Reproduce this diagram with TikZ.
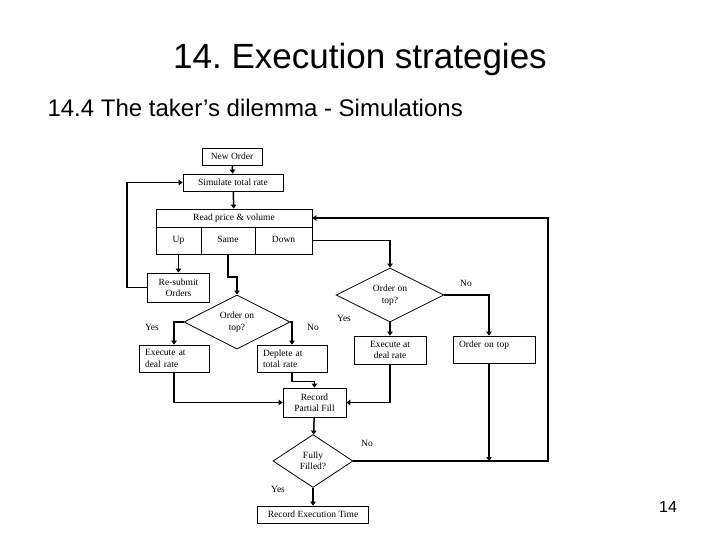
\documentclass[tikz,border=0pt]{standalone}
\usepackage{fontspec}
\setmainfont{Liberation Serif}
\newfontfamily\slidefont{Liberation Sans}
\usetikzlibrary{shapes.geometric,arrows.meta}
\frenchspacing

\tikzset{
  box/.style={draw,line width=0.8pt,inner sep=2pt,align=center,
    font=\fontsize{9.5}{11.5}\selectfont},
  cell/.style={box,minimum height=27pt,text height=7pt,text depth=2pt},
  leftbox/.style={box,align=left,inner xsep=6pt,text width=58pt,minimum height=27pt},
  decision/.style={draw,diamond,line width=0.8pt,inner sep=0pt,align=center,
    font=\fontsize{9.5}{11.5}\selectfont},
  conn/.style={line width=1.5pt,-{Triangle[length=4pt,width=5.5pt]}},
  lbl/.style={font=\fontsize{9.5}{11}\selectfont}
}

\begin{document}
\begin{tikzpicture}[x=1pt,y=-1pt]
  \useasboundingbox (0,0) rectangle (720,540);
  % slide titles
  \node[anchor=base,font=\slidefont\fontsize{35}{40}\selectfont] (title) at (360,69) {14. Execution strategies};
  \node[anchor=base west,font=\slidefont\fontsize{24}{28}\selectfont] (subtitle) at (44,117) {14.4 The taker’s dilemma - Simulations};
  \node[anchor=base,font=\slidefont\fontsize{16}{18}\selectfont] (pagenum) at (668,512) {14};

  % boxes
  \node[box,minimum width=60pt,minimum height=17pt] (neworder) at (232,156.5) {New Order};
  \node[box,minimum width=100pt,minimum height=17pt] (simulate) at (233,182.5) {Simulate total rate};
  \node[box,minimum width=156pt,minimum height=18pt] (readprice) at (234,218) {Read price \& volume};
  \node[cell,minimum width=45pt] (up) at (178.5,240.5) {Up};
  \node[cell,minimum width=54pt] (same) at (228,240.5) {Same};
  \node[cell,minimum width=57pt] (down) at (283.5,240.5) {Down};
  \node[box,minimum width=62pt,minimum height=29pt] (resubmit) at (178.5,287.5) {Re-submit\\Orders};

  \node[decision,minimum width=108pt,minimum height=42pt] (decA) at (390,295) {Order on\\top?};
  \node[decision,minimum width=106pt,minimum height=42pt] (decB) at (237,322) {Order on\\top?};

  \node[leftbox] (execL) at (174,358.5) {Execute at\\deal rate};
  \node[leftbox] (deplete) at (292,358.5) {Deplete at\\total rate};
  \node[box,minimum width=72pt,minimum height=28pt] (execR) at (390,350) {Execute at\\deal rate};
  \node[box,align=left,inner xsep=6pt,text width=70pt,text height=7pt,text depth=12pt,inner ysep=4pt] (ordertop) at (494,349.5) {Order on top};

  \node[box,minimum width=63pt,minimum height=29pt] (partial) at (314.5,402.5) {Record\\Partial Fill};
  \node[decision,minimum width=80pt,minimum height=53pt] (filled) at (313,461) {Fully\\Filled?};
  \node[box,minimum width=111pt,minimum height=17pt] (rectime) at (313,514.5) {Record Execution Time};

  % helper points
  \coordinate (loopc) at (548,461);
  \coordinate (otn) at ([xshift=-5pt]ordertop.north);
  \coordinate (ots) at ([xshift=-5pt]ordertop.south);

  % connectors
  \draw[conn] (neworder) -- (simulate);
  \draw[conn] (simulate) -- (readprice);
  \draw[conn] (up) -- (resubmit);
  \draw[conn] (resubmit.west) -- ++(-20,0) |- (simulate.west);
  \draw[conn] (same.south) -- ++(0,22.5) -| (decB.north);
  \draw[conn] (down.east) -| (decA.north);
  \draw[conn] (decB.west) -| (execL.north);
  \draw[conn] (decB.east) -| (deplete.north);
  \draw[conn] (decA.east) -| (otn);
  \draw[conn] (decA.south) -- (execR.north);
  \draw[conn] (execL.south) |- (partial.west);
  \draw[conn] (deplete.south) -- ++(0,9) -| (partial.north);
  \draw[conn] (execR.south) |- (partial.east);
  \draw[conn] (partial) -- (filled);
  \draw[conn] (filled) -- (rectime);
  \draw[conn] (filled.east) -- (loopc) |- (readprice.east);
  \draw[conn] (ots) -- (ots |- loopc);

  % branch labels
  \node[lbl] (yesB) at (152,327) {Yes};
  \node[lbl] (noB) at (313,327) {No};
  \node[lbl] (noA) at (466,283) {No};
  \node[lbl] (yesA) at (344,318) {Yes};
  \node[lbl] (noF) at (367,443) {No};
  \node[lbl] (yesF) at (278,489) {Yes};
\end{tikzpicture}
\end{document}
